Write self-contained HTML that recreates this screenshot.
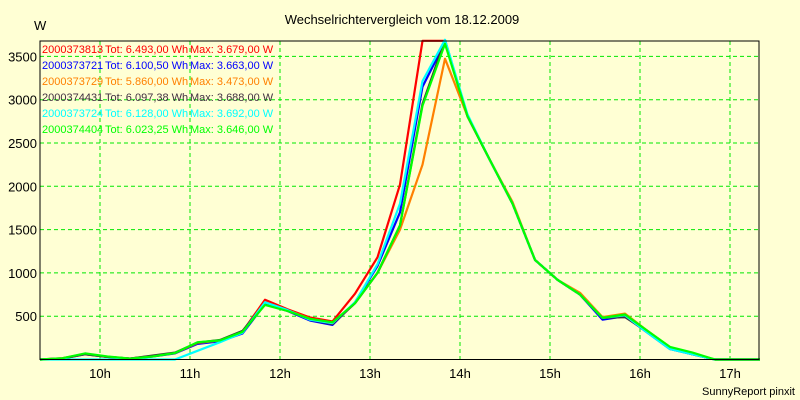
<!DOCTYPE html>
<html><head><meta charset="utf-8"><style>
body{margin:0;background:#ffffd4;}
svg{display:block;font-family:"Liberation Sans",sans-serif;}
</style></head><body>
<svg id="c" width="800" height="400">
<rect width="800" height="400" fill="#ffffd4"/>
<text x="402" y="24" font-size="13" text-anchor="middle">Wechselrichtervergleich vom 18.12.2009</text>
<text x="34" y="30" font-size="13">W</text>
<text x="795" y="395" font-size="11" text-anchor="end">SunnyReport pinxit</text>
<g id="grid"></g><g id="series"></g><g id="axes"></g><g id="legend"></g>
</svg>
<script>
const yTicks=[500,1000,1500,2000,2500,3000,3500];
const xTickHours=[10,11,12,13,14,15,16,17];
const xTickLabels=["10h","11h","12h","13h","14h","15h","16h","17h"];
const startHour=9+20/60, stepMin=15;
const names=["2000373813","2000373721","2000373729","2000374431","2000373724","2000374404"];
const totals=["6.493,00","6.100,50","5.860,00","6.097,38","6.128,00","6.023,25"];
const maxes=["3.679,00","3.663,00","3.473,00","3.688,00","3.692,00","3.646,00"];
const colors=["#ff0000","#0000ff","#ff8000","#403040","#00ffff","#00ff00"];
const sRed=[0,15,65,30,10,40,75,190,220,320,690,580,485,440,760,1180,2020,3680,3680,2810,2300,1800,1150,920,750,480,510,330,140,70,0,0,0];
const sBlue=[0,10,60,30,10,35,70,180,210,300,640,560,450,400,660,1080,1700,3150,3663,2810,2300,1800,1150,920,750,460,500,310,120,60,0,0,0];
const sOrange=[0,12,62,30,10,40,75,190,220,320,660,570,470,420,650,1000,1500,2250,3473,2810,2300,1820,1150,920,770,490,530,330,140,70,0,0,0];
const sDark=[0,12,62,30,10,45,80,195,225,330,650,570,460,410,650,1000,1550,2950,3688,2810,2300,1800,1150,920,750,480,490,320,130,60,0,0,0];
const sCyan=[0,0,0,0,0,0,0,100,200,310,660,570,460,420,660,1100,1800,3215,3692,2830,2300,1800,1150,920,750,480,510,310,120,60,0,0,0];
const sGreen=[0,15,70,35,10,35,75,200,220,320,630,560,470,430,650,1000,1550,2930,3646,2810,2300,1800,1150,920,750,480,520,330,145,80,0,0,0];
const series=[sRed,sBlue,sOrange,sDark,sCyan,sGreen];
const L=40,R=759,T=41,B=359.5;
const yMax=(B-T)/0.0866;
const X=h=>L+(h-startHour)*90, Y=v=>B-v/yMax*(B-T);
const NS="http://www.w3.org/2000/svg";
function mk(tag,parent,attrs){const e=document.createElementNS(NS,tag);for(const k in attrs)e.setAttribute(k,attrs[k]);document.getElementById(parent).appendChild(e);return e;}
yTicks.forEach(v=>{
 const l=mk("line","grid",{x1:L,x2:R,y1:Y(v),y2:Y(v),stroke:"#00e800","stroke-dasharray":"4,3"});
 
 
 const t=mk("text","axes",{x:L-3,y:Y(v)+5,"font-size":"13","text-anchor":"end"});
 t.textContent=v;
 
 
});
xTickHours.forEach((h,i)=>{
 const l=mk("line","grid",{x1:X(h),x2:X(h),y1:T,y2:B,stroke:"#00e800","stroke-dasharray":"4,3"});
 
 
 const t=mk("text","axes",{x:X(h),y:378,"font-size":"13","text-anchor":"middle"});
 t.textContent=xTickLabels[i];
 
 
});
const fr=mk("path","axes",{d:`M${L},${T}H${R}V${B}H${L}Z`,fill:"none",stroke:"#000"});


series.forEach((s,i)=>{
 const pts=s.map((v,k)=>`${X(startHour+k*stepMin/60).toFixed(1)},${Y(v).toFixed(1)}`).join(" ");
 const p=mk("polyline","series",{points:pts,fill:"none",stroke:colors[i],"stroke-width":"2.2","stroke-linejoin":"round"});
 
 
 const y0=53+i*16;
 const a=mk("text","legend",{x:42,y:y0,"font-size":"11",fill:colors[i]});a.textContent=names[i];
 
 
 const b=mk("text","legend",{x:105,y:y0,"font-size":"11",fill:colors[i]});b.textContent="Tot: "+totals[i]+" Wh";
 
 
 const c=mk("text","legend",{x:190,y:y0,"font-size":"11",fill:colors[i]});c.textContent="Max: "+maxes[i]+" W";
 
 
});
</script>
</body></html>
